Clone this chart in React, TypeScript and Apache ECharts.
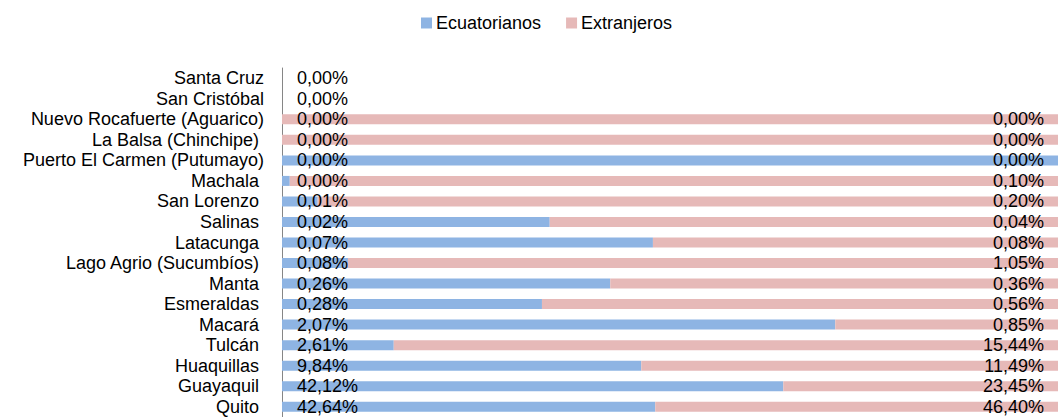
import React, { useEffect, useRef } from "react";
import * as echarts from "echarts";

const categories = [
  "Santa Cruz",
  "San Cristóbal",
  "Nuevo Rocafuerte (Aguarico)",
  "La Balsa (Chinchipe)\u00a0",
  "Puerto El Carmen (Putumayo)",
  "Machala\u00a0",
  "San Lorenzo\u00a0",
  "Salinas\u00a0",
  "Latacunga\u00a0",
  "Lago Agrio (Sucumbíos)\u00a0",
  "Manta\u00a0",
  "Esmeraldas\u00a0",
  "Macará\u00a0",
  "Tulcán\u00a0",
  "Huaquillas\u00a0",
  "Guayaquil\u00a0",
  "Quito\u00a0",
];

// share of each row (100% stacked)
const ecuatorianosShare = [0, 0, 0, 0, 100, 1.0, 4.6, 34.5, 47.8, 8.5, 42.3, 33.5, 71.3, 14.4, 46.3, 64.6, 48.1];
const extranjerosShare = [0, 0, 100, 100, 0, 99.0, 95.4, 65.5, 52.2, 91.5, 57.7, 66.5, 28.7, 85.6, 53.7, 35.4, 51.9];

// printed data labels
const ecuatorianosLabels = [
  "0,00%", "0,00%", "0,00%", "0,00%", "0,00%", "0,00%", "0,01%", "0,02%", "0,07%",
  "0,08%", "0,26%", "0,28%", "2,07%", "2,61%", "9,84%", "42,12%", "42,64%",
];
const extranjerosLabels = [
  "", "", "0,00%", "0,00%", "0,00%", "0,10%", "0,20%", "0,04%", "0,08%",
  "1,05%", "0,36%", "0,56%", "0,85%", "15,44%", "11,49%", "23,45%", "46,40%",
];

const FONT = '"Liberation Sans", Arial, sans-serif';

export default function App() {
  const ref = useRef<HTMLDivElement>(null);
  useEffect(() => {
    document.body.style.margin = "0";
    if (!ref.current) return;
    const chart = echarts.init(ref.current, null, { renderer: "svg" });
    chart.setOption({
      animation: false,
      textStyle: { fontFamily: FONT },
      legend: {
        left: 416,
        top: 9,
        itemWidth: 11,
        itemHeight: 11,
        itemGap: 25,
        icon: "rect",
        textStyle: { fontSize: 18, color: "#000", fontFamily: FONT, padding: [0, 0, 0, -1] },
        data: ["Ecuatorianos", "Extranjeros"],
      },
      grid: { left: 282, right: 0, top: 68, bottom: 0, containLabel: false },
      xAxis: { type: "value", min: 0, max: 100, show: false },
      yAxis: {
        type: "category",
        inverse: true,
        data: categories,
        axisLine: { show: true, lineStyle: { color: "#868686", width: 1 } },
        axisTick: { show: false },
        axisLabel: { interval: 0, fontSize: 18, color: "#000", fontFamily: FONT, margin: 18 },
        splitLine: { show: false },
      },
      series: [
        {
          name: "Ecuatorianos",
          type: "bar",
          stack: "total",
          barWidth: 10,
          itemStyle: { color: "#8EB4E3" },
          data: ecuatorianosShare,
          label: {
            show: true,
            position: "insideLeft",
            distance: 15,
            fontSize: 18,
            color: "#000",
            fontFamily: FONT,
            formatter: (p: any) => ecuatorianosLabels[p.dataIndex] || "",
          },
        },
        {
          name: "Extranjeros",
          type: "bar",
          stack: "total",
          barWidth: 10,
          itemStyle: { color: "#E6B9B8" },
          data: extranjerosShare,
          label: {
            show: true,
            position: "insideRight",
            distance: 14,
            fontSize: 18,
            color: "#000",
            fontFamily: FONT,
            formatter: (p: any) => extranjerosLabels[p.dataIndex] || "",
          },
        },
      ],
    });
    return () => chart.dispose();
  }, []);
  return <div ref={ref} style={{ width: 1058, height: 417 }} />;
}
